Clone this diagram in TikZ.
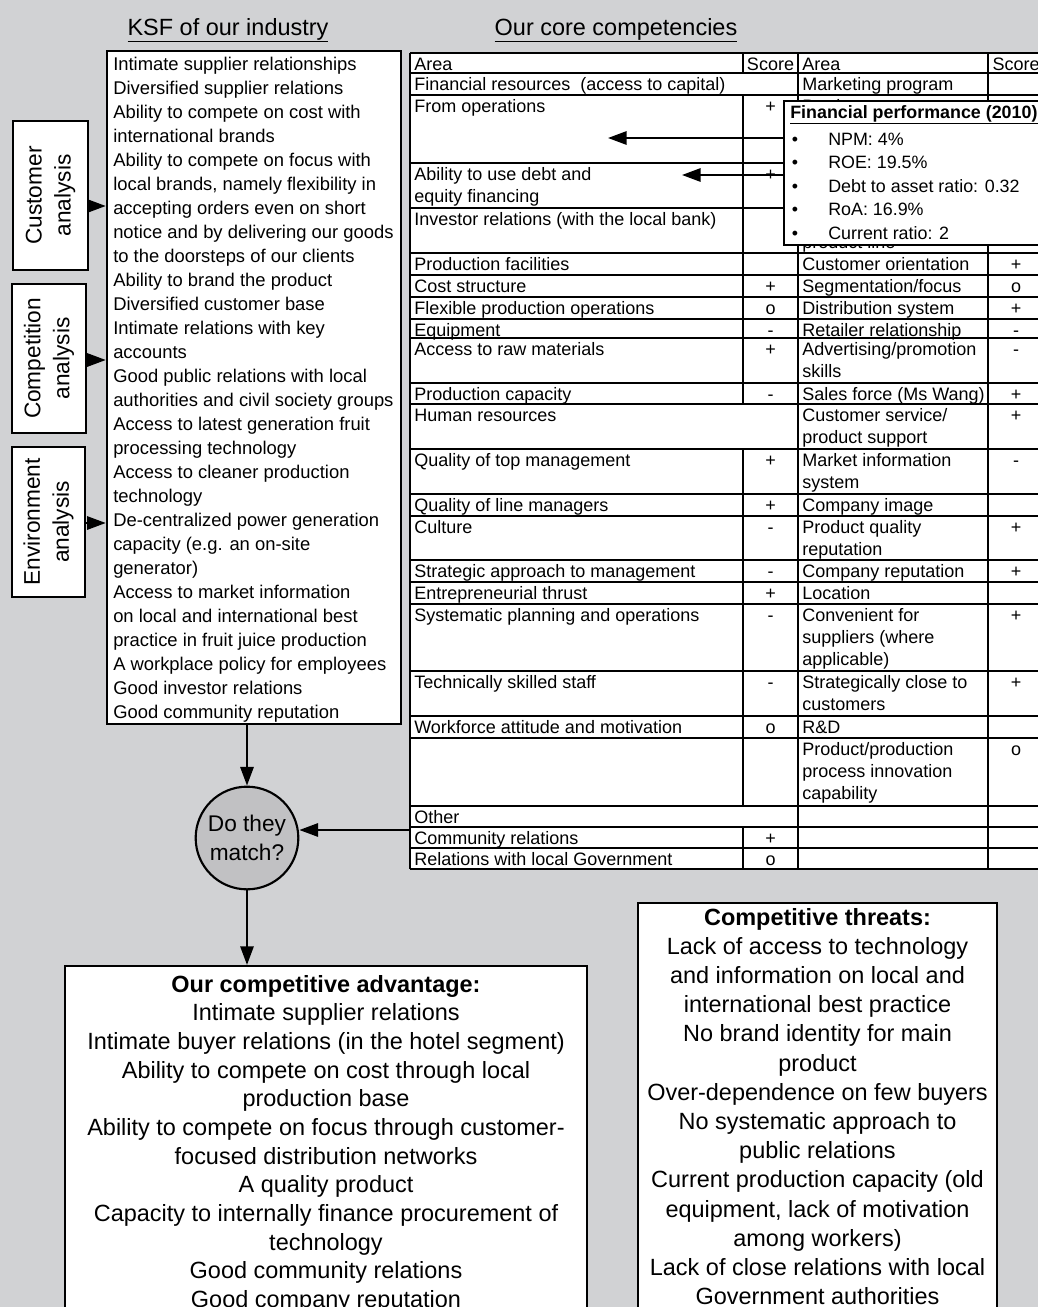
\documentclass[tikz,border=0pt]{standalone}
\usepackage{fontspec}
\setmainfont{Liberation Sans}
\usetikzlibrary{arrows.meta,
	fit,
	calc}
\definecolor{bggray}{RGB}{209,210,212}
\definecolor{matchgray}{RGB}{193,193,195}
\newcommand\tabfont{\fontsize{13.5}{16.5}\selectfont}
\newcommand\ksffont{\fontsize{13.8}{18}\selectfont}
\newcommand\popfont{\fontsize{13.4}{17.6}\selectfont}
\newcommand\hdfont{\fontsize{17.6}{21}\selectfont}
\newcommand\labfont{\fontsize{17}{21.8}\selectfont}
\newcommand\advfont{\fontsize{17.6}{21.5}\selectfont}
\newcommand\thrfont{\fontsize{17.6}{21.9}\selectfont}
\newcommand\celltext[1]{\parbox[t]{12cm}{\raggedright #1}}
\newcommand\centretext[2]{\parbox[t]{#1}{\centering #2}}
\tikzstyle{panel}=[draw, fill=white, line width=1.6pt, inner sep=0]
\tikzstyle{tabline}=[line width=1.4pt]
\tikzstyle{celltxt}=[anchor=base west, inner sep=0, font=\tabfont]
\tikzstyle{scoretxt}=[anchor=base, inner sep=0, font=\tabfont]
\tikzstyle{arr}=[line width=1.5pt, -{Triangle[length=14pt, width=10pt]}]
\begin{document}
\begin{tikzpicture}[x=0.75pt, y=-0.75pt]
\useasboundingbox (0,0) rectangle (1038,1307);
\clip (0,0) rectangle (1038,1307);
\fill[bggray] (0,0) rectangle (1038,1307);

% headings
\node[anchor=base, inner sep=0, font=\hdfont] (ksfhead) at (228,35) {\underline{KSF of our industry}};
\node[anchor=base, inner sep=0, font=\hdfont] (comphead) at (616,35) {\underline{Our core competencies}};

% analysis boxes
\node[panel, fit={(13,121) (88,270)}] (cust) {};
\node[panel, fit={(12,284) (86,433)}] (compet) {};
\node[panel, fit={(12,447) (85,597)}] (envir) {};
\node[rotate=90, align=center, font=\labfont, inner sep=0] (custtxt) at (cust.center) {Customer\\analysis};
\node[rotate=90, align=center, font=\labfont, inner sep=0] (compettxt) at (compet.center) {Competition\\analysis};
\node[rotate=90, align=center, font=\labfont, inner sep=0] (envirtxt) at (envir.center) {Environment\\analysis};

% KSF box
\node[panel, line width=1.9pt, fit={(107,51) (401,724)}] (ksf) {};
\node[anchor=base west, inner sep=0, font=\ksffont] (ksftxt) at (113,70) {\celltext{%
Intimate supplier relationships\\
Diversified supplier relations\\
Ability to compete on cost with\\
international brands\\
Ability to compete on focus with\\
local brands, namely flexibility in\\
accepting orders even on short\\
notice and by delivering our goods\\
to the doorsteps of our clients\\
Ability to brand the product\\
Diversified customer base\\
Intimate relations with key\\
accounts\\
Good public relations with local\\
authorities and civil society groups\\
Access to latest generation fruit\\
processing technology\\
Access to cleaner production\\
technology\\
De-centralized power generation\\
capacity (e.g. an on-site\\
generator)\\
Access to market information\\
on local and international best\\
practice in fruit juice production\\
A workplace policy for employees\\
Good investor relations\\
Good community reputation}};

\coordinate (ca) at (88,206);
\coordinate (co) at (86,360);
\coordinate (en) at (85,523);
\draw[arr] (ca) -- (ca -| ksf.west);
\draw[arr] (co) -- (co -| ksf.west);
\draw[arr] (en) -- (en -| ksf.west);

% core competencies table
\fill[white] (410,53) rectangle (1045,869);
\node[celltxt] (lhead) at (414,70) {Area};
\node[scoretxt] (lshead) at (770.5,70) {Score};
\node[celltxt] (la73) at (414,90) {Financial resources~ (access to capital)};
\node[celltxt] (la404) at (414,421) {Human resources};
\node[celltxt] (la806) at (414,823) {Other};
\foreach \rt/\tx/\sc in {
	95/{From operations}/+,
	163/{Ability to use debt and\\equity financing}/+,
	208/{Investor relations (with the local bank)}/{},
	253/{Production facilities}/{},
	275/{Cost structure}/+,
	297/{Flexible production operations}/o,
	319/{Equipment}/-,
	338/{Access to raw materials}/+,
	383/{Production capacity}/-,
	449/{Quality of top management}/+,
	494/{Quality of line managers}/+,
	516/{Culture}/-,
	560/{Strategic approach to management}/-,
	582/{Entrepreneurial thrust}/+,
	604/{Systematic planning and operations}/-,
	671/{Technically skilled staff}/-,
	716/{Workforce attitude and motivation}/o,
	827/{Community relations}/+,
	848/{Relations with local Government}/o}{
	\node[celltxt] (la\rt) at (414,\rt+17) {\celltext{\tx}};
	\node[scoretxt] (ls\rt) at (770.5,\rt+17) {\sc};
}
\foreach \rt/\tx/\sc in {
	53/{Area}/{Score},
	73/{Marketing program}/{},
	253/{Customer orientation}/+,
	275/{Segmentation/focus}/o,
	297/{Distribution system}/+,
	319/{Retailer relationship}/-,
	338/{Advertising/promotion\\skills}/-,
	383/{Sales force (Ms Wang)}/+,
	404/{Customer service/\\product support}/+,
	449/{Market information\\system}/-,
	494/{Company image}/{},
	516/{Product quality\\reputation}/+,
	560/{Company reputation}/+,
	582/{Location}/{},
	604/{Convenient for\\suppliers (where\\applicable)}/+,
	671/{Strategically close to\\customers}/+,
	716/{R\&D}/{},
	738/{Product/production\\process innovation\\capability}/o}{
	\node[celltxt] (ra\rt) at (802,\rt+17) {\celltext{\tx}};
	\node[scoretxt] (rs\rt) at (1016,\rt+17) {\sc};
}
\node[celltxt] (ra95) at (802,112) {Product};
\node[celltxt] (ra95b) at (802,248) {product line};

\foreach \y in {53,73,95,163,208,253,275,297,319,338,383,404,449,494,516,560,582,604,671,716,738,806,827,848,869}
	\draw[tabline] (410,\y) -- (798,\y);
\foreach \y in {53,73,95,253,275,297,319,338,383,404,449,494,516,560,582,604,671,716,738,806,827,848,869}
	\draw[tabline] (798,\y) -- (1045,\y);
\draw[tabline] (410,53) -- (410,869);
\draw[tabline] (798,53) -- (798,869);
\draw[tabline] (988,53) -- (988,869);
\draw[tabline] (743,53) -- (743,73);
\draw[tabline] (743,95) -- (743,404);
\draw[tabline] (743,449) -- (743,806);
\draw[tabline] (743,827) -- (743,869);

% financial performance call-out
\node[panel, line width=1.8pt, fit={(784,101) (1050,245)}] (pop) {};
\node[anchor=base west, inner sep=0, font=\popfont] (poptitle) at (790,118) {\textbf{\underline{Financial performance (2010)}}};
\foreach \y/\tx [count=\i] in {145/{NPM: 4\%}, 168.5/{ROE: 19.5\%}, 192/{Debt to asset ratio: 0.32}, 215/{RoA: 16.9\%}, 239/{Current ratio: 2}}{
	\node[anchor=base, inner sep=0, font=\popfont] (bul\i) at (795,\y) {\textbullet};
	\node[anchor=base west, inner sep=0, font=\popfont] (pop\i) at (828,\y) {\tx};
}
\coordinate (fromop) at (608,138);
\coordinate (debt) at (682,175);
\draw[arr] (pop.west |- fromop) -- (fromop);
\draw[arr] (pop.west |- debt) -- (debt);

% do they match?
\node[circle, draw, line width=1.6pt, fill=matchgray, minimum size=77pt, inner sep=0, align=center, font=\fontsize{17}{22}\selectfont] (match) at (247,838) {Do they\\match?};
\coordinate (tab) at (410,830);
\draw[arr] (match.north |- ksf.south) -- (match.north);
\draw[arr] (tab) -- (tab -| match.east);

% results
\node[panel, fit={(65,966) (587,1330)}] (adv) {};
\node[panel, fit={(638,903) (997,1330)}] (thr) {};
\draw[arr] (match.south) -- (match.south |- adv.north);
\node[anchor=base, inner sep=0, font=\advfont] (advtxt) at (326,992) {\centretext{390pt}{%
\textbf{Our competitive advantage:}\\
Intimate supplier relations\\
Intimate buyer relations (in the hotel segment)\\
Ability to compete on cost through local\\
production base\\
Ability to compete on focus through customer-\\
focused distribution networks\\
A quality product\\
Capacity to internally finance procurement of\\
technology\\
Good community relations\\
Good company reputation}};
\node[anchor=base, inner sep=0, font=\thrfont] (thrtxt) at (817.5,925) {\centretext{300pt}{%
\textbf{Competitive threats:}\\
Lack of access to technology\\
and information on local and\\
international best practice\\
No brand identity for main\\
product\\
Over-dependence on few buyers\\
No systematic approach to\\
public relations\\
Current production capacity (old\\
equipment, lack of motivation\\
among workers)\\
Lack of close relations with local\\
Government authorities}};
\end{tikzpicture}
\end{document}
